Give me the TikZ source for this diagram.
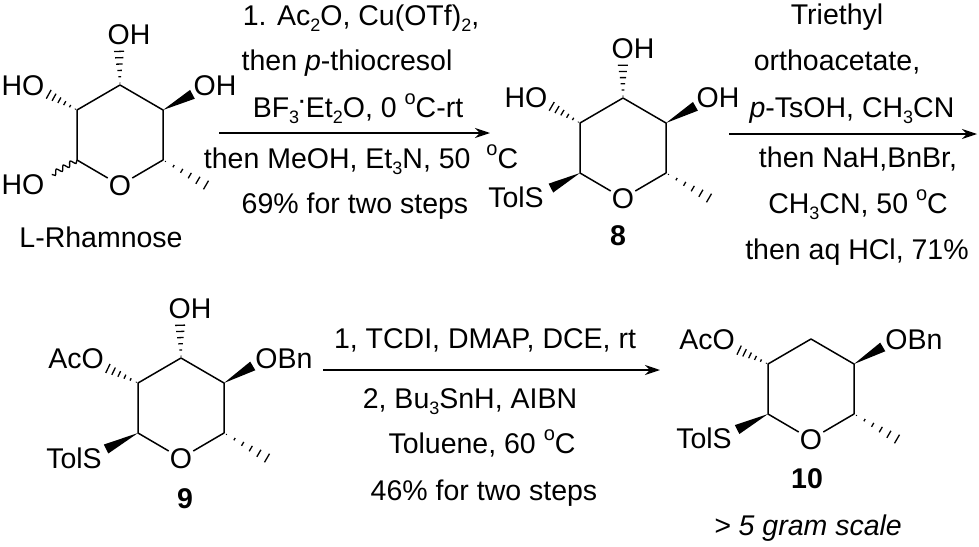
\documentclass[tikz,border=0pt]{standalone}
\usepackage{fontspec}
\setmainfont{Liberation Sans}
\usetikzlibrary{arrows.meta,calc,decorations.pathmorphing}

\tikzset{
    chemtext/.style={font=\fontsize{28.5}{30}\selectfont, anchor=base, inner sep=1pt},
    numlabel/.style={chemtext, font=\fontsize{28.5}{30}\selectfont\bfseries},
    bondline/.style={line width=1.5pt, line join=round},
    hashstroke/.style={line width=1.3pt},
    wavybond/.style={line width=1.3pt, decorate, decoration={snake, amplitude=2.5pt, segment length=8pt}},
    rxnarrow/.style={line width=1.5pt, -{Stealth[length=15pt,width=10pt]}},
}

\newcommand{\subnum}[1]{\raisebox{-6pt}{\fontsize{18}{18}\selectfont #1}}
\newcommand{\degmark}{\raisebox{13pt}{\fontsize{20}{20}\selectfont o}}
\newcommand{\raiseddot}{\raisebox{9pt}{\fontsize{20}{20}\selectfont\bfseries ·}}

\newcommand{\pyranring}[3]{%
    \coordinate (#1top) at (#2,#3);
    \coordinate (#1ul) at (#2-43,#3+25);
    \coordinate (#1ur) at (#2+43,#3+25);
    \coordinate (#1ll) at (#2-43,#3+75);
    \coordinate (#1lr) at (#2+43,#3+75);
    \coordinate (#1me) at (#2+86,#3+100);
    \node[chemtext] (#1o) at (#2,#3+110) {O};
    \draw[bondline] (#1o) -- (#1ll) -- (#1ul) -- (#1top) -- (#1ur) -- (#1lr) -- (#1o);
}
\newcommand{\hashbond}[3]{%
    \foreach \barno in {1,...,6} {
        \pgfmathsetmacro{\barpos}{#3*(\barno-.7)/5.3}
        \pgfmathsetmacro{\barhalf}{.4+4.6*(\barno-1)/5}
        \draw[hashstroke] ($(#1)!\barpos!(#2)!\barhalf pt!90:(#1)$) -- ($(#1)!\barpos!(#2)!\barhalf pt!-90:(#1)$);
    }
}
\newcommand{\wedgebond}[3]{%
    \coordinate (wedgeend) at ($(#1)!#3!(#2)$);
    \fill (#1) -- ($(wedgeend)!5pt!90:(#1)$) -- ($(wedgeend)!5pt!-90:(#1)$) -- cycle;
}

\begin{document}
\begin{tikzpicture}[x=1pt,y=-1pt]
    \useasboundingbox (0,0) rectangle (979,546);

    % L-rhamnose
    \pyranring{ra}{120}{85}
    \node[chemtext] (raohtop) at (129,44) {OH};
    \node[chemtext] (raholeft) at (23,95) {HO};
    \node[chemtext] (raohright) at (215,95) {OH};
    \node[chemtext] (raholow) at (23,194) {HO};
    \node[chemtext] (raname) at (101,247) {L-Rhamnose};
    \hashbond{ratop}{raohtop.228}{.85}
    \hashbond{raul}{raholeft.-18}{.9}
    \wedgebond{raur}{raohright.202}{1}
    \draw[wavybond] (rall) -- ($(rall)!.8!(raholow.15)$);
    \hashbond{ralr}{rame}{1}

    % first step
    \coordinate (arrowastart) at (219,133);
    \coordinate (arrowaend) at (490,133);
    \draw[rxnarrow] (arrowastart) -- (arrowaend);
    \node[chemtext] (stepaone) at (361,25) {1. Ac\subnum{2}O, Cu(OTf)\subnum{2},};
    \node[chemtext] (stepatwo) at (347,70) {then \textit{p}-thiocresol};
    \node[chemtext] (stepathree) at (358,117) {BF\subnum{3}\raiseddot Et\subnum{2}O, 0 \degmark C-rt};
    \node[chemtext] (stepafour) at (361,168) {then MeOH, Et\subnum{3}N, 50\ \ \degmark C};
    \node[chemtext] (stepafive) at (355,213) {69\% for two steps};

    % compound 8
    \pyranring{rb}{623}{98}
    \node[chemtext] (rbohtop) at (633,58) {OH};
    \node[chemtext] (rbholeft) at (526,107) {HO};
    \node[chemtext] (rbohright) at (718,107) {OH};
    \node[chemtext] (rbtols) at (516,207) {TolS};
    \node[numlabel] (rbname) at (618,245) {8};
    \hashbond{rbtop}{rbohtop.228}{.85}
    \hashbond{rbul}{rbholeft.-18}{.9}
    \wedgebond{rbur}{rbohright.202}{1}
    \wedgebond{rbll}{rbtols.11}{.83}
    \hashbond{rblr}{rbme}{1}

    % second step
    \coordinate (arrowbstart) at (729,134);
    \coordinate (arrowbend) at (977,134);
    \draw[rxnarrow] (arrowbstart) -- (arrowbend);
    \node[chemtext] (stepbone) at (837,24) {Triethyl};
    \node[chemtext] (stepbtwo) at (837,70) {orthoacetate,};
    \node[chemtext] (stepbthree) at (852,117) {\textit{p}-TsOH, CH\subnum{3}CN};
    \node[chemtext] (stepbfour) at (858,167) {then NaH,BnBr,};
    \node[chemtext] (stepbfive) at (858,213) {CH\subnum{3}CN, 50 \degmark C};
    \node[chemtext] (stepbsix) at (857,259) {then aq HCl, 71\%};

    % compound 9
    \pyranring{rc}{181}{358}
    \node[chemtext] (rcohtop) at (190,318) {OH};
    \node[chemtext] (rcaco) at (76,368) {AcO};
    \node[chemtext] (rcobn) at (284,368) {OBn};
    \node[chemtext] (rctols) at (74,468) {TolS};
    \node[numlabel] (rcname) at (185,508) {9};
    \hashbond{rctop}{rcohtop.228}{.85}
    \hashbond{rcul}{rcaco.-17}{.91}
    \wedgebond{rcur}{rcobn.193}{.95}
    \wedgebond{rcll}{rctols.14}{.91}
    \hashbond{rclr}{rcme}{1}

    % third step
    \coordinate (arrowcstart) at (323,370);
    \coordinate (arrowcend) at (660,370);
    \draw[rxnarrow] (arrowcstart) -- (arrowcend);
    \node[chemtext] (stepcone) at (485,348) {1, TCDI, DMAP, DCE, rt};
    \node[chemtext] (stepctwo) at (470,408) {2, Bu\subnum{3}SnH, AIBN};
    \node[chemtext] (stepcthree) at (482,453) {Toluene, 60 \degmark C};
    \node[chemtext] (stepcfour) at (484,500) {46\% for two steps};

    % compound 10
    \pyranring{rd}{811}{339}
    \node[chemtext] (rdaco) at (707,349) {AcO};
    \node[chemtext] (rdobn) at (914,349) {OBn};
    \node[chemtext] (rdtols) at (704,448) {TolS};
    \node[numlabel] (rdname) at (807,488) {10};
    \node[chemtext] (rdscale) at (808,535) {\textit{> 5 gram scale}};
    \hashbond{rdul}{rdaco.-18}{.9}
    \wedgebond{rdur}{rdobn.193}{.95}
    \wedgebond{rdll}{rdtols.12}{.88}
    \hashbond{rdlr}{rdme}{1}
\end{tikzpicture}
\end{document}
